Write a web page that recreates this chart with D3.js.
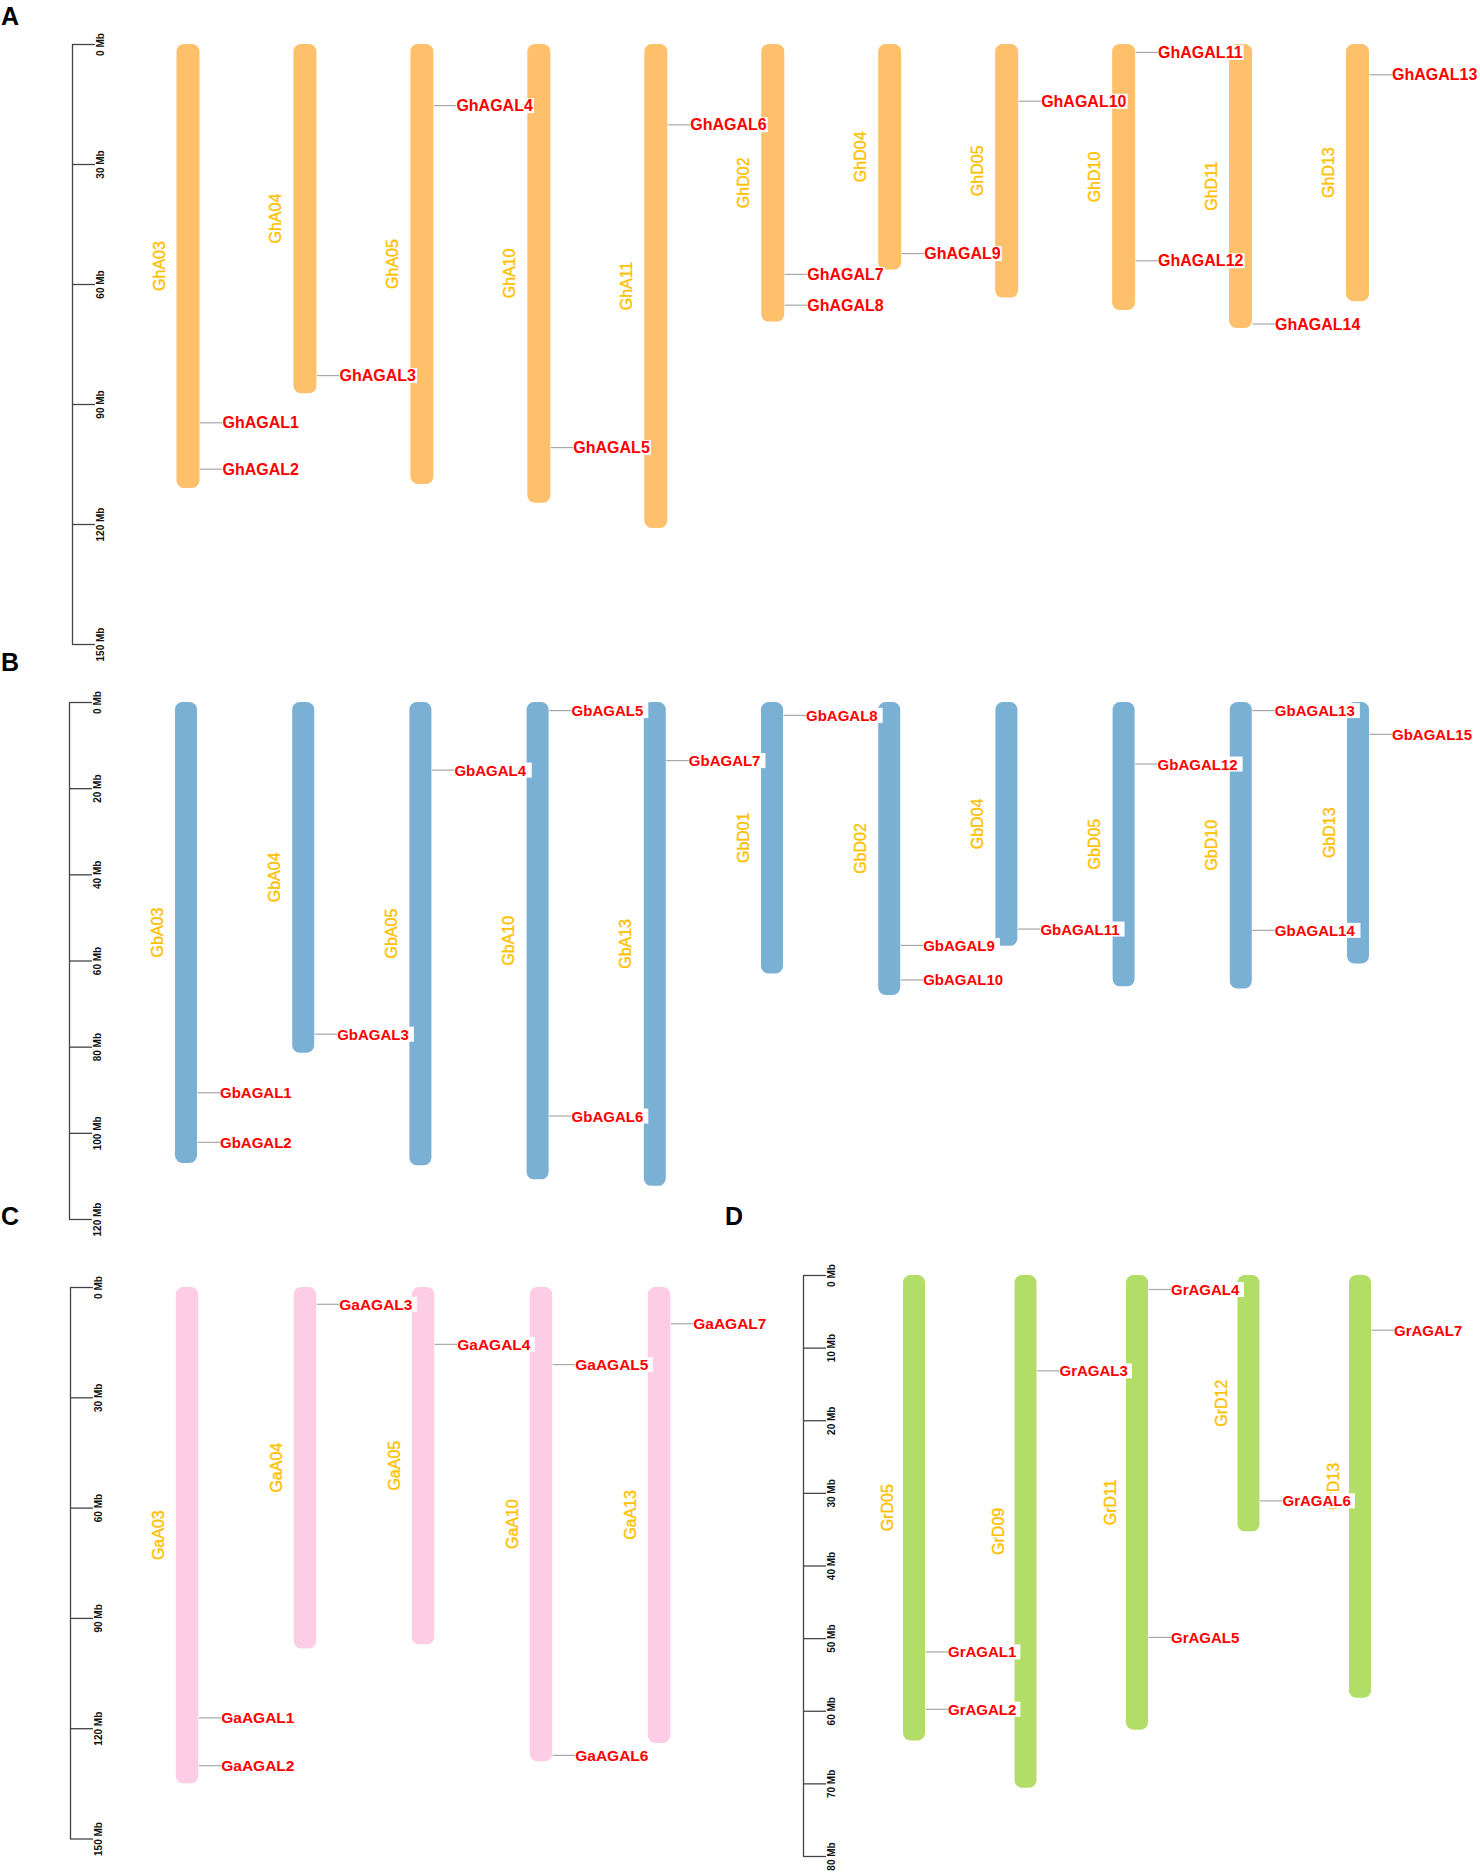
<!DOCTYPE html>
<html>
<head>
<meta charset="utf-8">
<script src="https://cdn.jsdelivr.net/npm/d3@7"></script>
<style>
  html, body { margin: 0; padding: 0; background: #fff; }
  svg { display: block; }
</style>
</head>
<body>
<div id="chart"></div>
<script>
// ---------------- DATA ----------------
// Panel A : G. hirsutum
const chromosomesA = ["GhA03","GhA04","GhA05","GhA10","GhA11","GhD02","GhD04","GhD05","GhD10","GhD11","GhD13"];
const lengthsA     = [111, 87.3, 110, 114.7, 121, 69.4, 56.4, 63.4, 66.5, 71, 64.3];
const genesA = [
  ["GhAGAL1","GhA03",94.7], ["GhAGAL2","GhA03",106.3], ["GhAGAL3","GhA04",82.9],
  ["GhAGAL4","GhA05",15.4], ["GhAGAL5","GhA10",100.9], ["GhAGAL6","GhA11",20.2],
  ["GhAGAL7","GhD02",57.6], ["GhAGAL8","GhD02",65.3], ["GhAGAL9","GhD04",52.4],
  ["GhAGAL10","GhD05",14.3], ["GhAGAL11","GhD10",2.1], ["GhAGAL12","GhD10",54.2],
  ["GhAGAL13","GhD13",7.7], ["GhAGAL14","GhD11",70]
];
const ticksA = [0,30,60,90,120,150];

// Panel B : G. barbadense
const chromosomesB = ["GbA03","GbA04","GbA05","GbA10","GbA13","GbD01","GbD02","GbD04","GbD05","GbD10","GbD13"];
const lengthsB     = [107, 81.4, 107.5, 110.8, 112.3, 63, 68, 56.6, 66, 66.5, 60.7];
const genesB = [
  ["GbAGAL1","GbA03",90.7], ["GbAGAL2","GbA03",102.2], ["GbAGAL3","GbA04",77.1],
  ["GbAGAL4","GbA05",15.8], ["GbAGAL5","GbA10",2.0], ["GbAGAL6","GbA10",96.1],
  ["GbAGAL7","GbA13",13.6], ["GbAGAL8","GbD01",3.1], ["GbAGAL9","GbD02",56.5],
  ["GbAGAL10","GbD02",64.5], ["GbAGAL11","GbD04",52.7], ["GbAGAL12","GbD05",14.4],
  ["GbAGAL13","GbD10",2.0], ["GbAGAL14","GbD10",53], ["GbAGAL15","GbD13",7.5]
];
const ticksB = [0,20,40,60,80,100,120];

// Panel C : G. arboreum
const chromosomesC = ["GaA03","GaA04","GaA05","GaA10","GaA13"];
const lengthsC     = [135, 98.3, 97.2, 129, 124];
const genesC = [
  ["GaAGAL1","GaA03",117.2], ["GaAGAL2","GaA03",130.2], ["GaAGAL3","GaA04",4.7],
  ["GaAGAL4","GaA05",15.6], ["GaAGAL5","GaA10",21.1], ["GaAGAL6","GaA10",127.4],
  ["GaAGAL7","GaA13",10]
];
const ticksC = [0,30,60,90,120,150];

// Panel D : G. raimondii
const chromosomesD = ["GrD05","GrD09","GrD11","GrD12","GrD13"];
const lengthsD     = [64.1, 70.6, 62.6, 35.3, 58.2];
const genesD = [
  ["GrAGAL1","GrD05",51.9], ["GrAGAL2","GrD05",59.8], ["GrAGAL3","GrD09",13.2],
  ["GrAGAL4","GrD11",2.0], ["GrAGAL5","GrD11",49.9], ["GrAGAL6","GrD12",31.1],
  ["GrAGAL7","GrD13",7.6]
];
const ticksD = [0,10,20,30,40,50,60,70,80];

// ---------------- LAYOUT ----------------
const W = 1480, H = 1873;
const panels = [
  { letter:"A", lx:1,   ly:25,   chroms:chromosomesA, lens:lengthsA, genes:genesA, ticks:ticksA,
    color:"#FFC06B", axisX:72,  y0:44,   y1:644,  x0:188, x1:1357.5, w:23, lab:-29, fs:16, pad:1 },
  { letter:"B", lx:1,   ly:671,  chroms:chromosomesB, lens:lengthsB, genes:genesB, ticks:ticksB,
    color:"#7BB0D5", axisX:69,  y0:702,  y1:1219, x0:186, x1:1358,   w:22, lab:-29, fs:15, pad:5 },
  { letter:"C", lx:1,   ly:1225, chroms:chromosomesC, lens:lengthsC, genes:genesC, ticks:ticksC,
    color:"#FDCDE6", axisX:70,  y0:1287, y1:1838.5, x0:187, x1:659,  w:22.5, lab:-29, fs:15.5, pad:4 },
  { letter:"D", lx:725, ly:1225, chroms:chromosomesD, lens:lengthsD, genes:genesD, ticks:ticksD,
    color:"#B2DD66", axisX:803, y0:1275, y1:1856, x0:914, x1:1360,   w:22, lab:-27, fs:15, pad:4 }
];

const svg = d3.select("#chart").append("svg")
  .attr("width", W).attr("height", H)
  .attr("viewBox", `0 0 ${W} ${H}`);

const labelFont = "'Liberation Sans', Arial, sans-serif";

panels.forEach(p => {
  const g = svg.append("g");
  const maxT = p.ticks[p.ticks.length - 1];
  const y = d3.scaleLinear().domain([0, maxT]).range([p.y0, p.y1]);
  const x = d3.scalePoint().domain(p.chroms).range([p.x0, p.x1]);
  const lenOf = new Map(p.chroms.map((c, i) => [c, p.lens[i]]));

  // panel letter
  g.append("text").attr("x", p.lx).attr("y", p.ly)
    .attr("font-family", labelFont).attr("font-weight", "bold")
    .attr("font-size", 25).attr("fill", "#000").text(p.letter);

  // scale axis
  const axis = d3.axisRight(y).tickValues(p.ticks).tickSize(23).tickSizeOuter(0)
    .tickFormat(d => d + " Mb");
  const ag = g.append("g").attr("transform", `translate(${p.axisX},0)`).call(axis);
  ag.select(".domain").attr("stroke", "#444").attr("stroke-width", 1.3);
  ag.selectAll(".tick line").attr("stroke", "#444").attr("stroke-width", 1.3);
  ag.selectAll(".tick text")
    .attr("x", null).attr("dy", null)
    .attr("transform", "translate(28,0) rotate(-90)")
    .attr("text-anchor", "middle").attr("dominant-baseline", "central")
    .attr("font-family", labelFont).attr("font-weight", "bold")
    .attr("font-size", 10).attr("fill", "#111");

  // chromosome labels
  g.selectAll(".clab").data(p.chroms).join("text")
    .attr("class", "clab")
    .attr("transform", d => `translate(${x(d) + p.lab},${(y(0) + y(lenOf.get(d))) / 2}) rotate(-90)`)
    .attr("text-anchor", "middle").attr("dominant-baseline", "central")
    .attr("font-family", labelFont).attr("font-size", 16)
    .attr("fill", "#FFC000").attr("stroke", "#FFC000").attr("stroke-width", 0.35)
    .text(d => d);

  // chromosomes
  g.selectAll(".chr").data(p.chroms).join("rect")
    .attr("class", "chr")
    .attr("x", d => x(d) - p.w / 2).attr("y", y(0))
    .attr("width", p.w).attr("height", d => y(lenOf.get(d)) - y(0))
    .attr("rx", 7.5).attr("ry", 7.5)
    .attr("fill", p.color);

  // gene link lines
  const gap = 23;
  g.selectAll(".lnk").data(p.genes).join("line")
    .attr("class", "lnk")
    .attr("x1", d => x(d[1]) + p.w / 2 + 0.5).attr("x2", d => x(d[1]) + p.w / 2 + gap)
    .attr("y1", d => y(d[2])).attr("y2", d => y(d[2]))
    .attr("stroke", "#A8A8A8").attr("stroke-width", 1.2);

  // gene labels with white boxes
  const lg = g.selectAll(".glab").data(p.genes).join("g").attr("class", "glab");
  const txt = lg.append("text")
    .attr("x", d => x(d[1]) + p.w / 2 + gap)
    .attr("y", d => y(d[2]))
    .attr("dominant-baseline", "central")
    .attr("font-family", labelFont).attr("font-weight", "bold")
    .attr("font-size", p.fs).attr("fill", "#FF0000")
    .text(d => d[0]);
  txt.each(function() {
    const bb = this.getBBox();
    d3.select(this.parentNode).insert("rect", "text")
      .attr("x", bb.x).attr("y", bb.y + 1)
      .attr("width", bb.width + p.pad).attr("height", bb.height - 2)
      .attr("fill", "#fff");
  });
});
</script>
</body>
</html>
